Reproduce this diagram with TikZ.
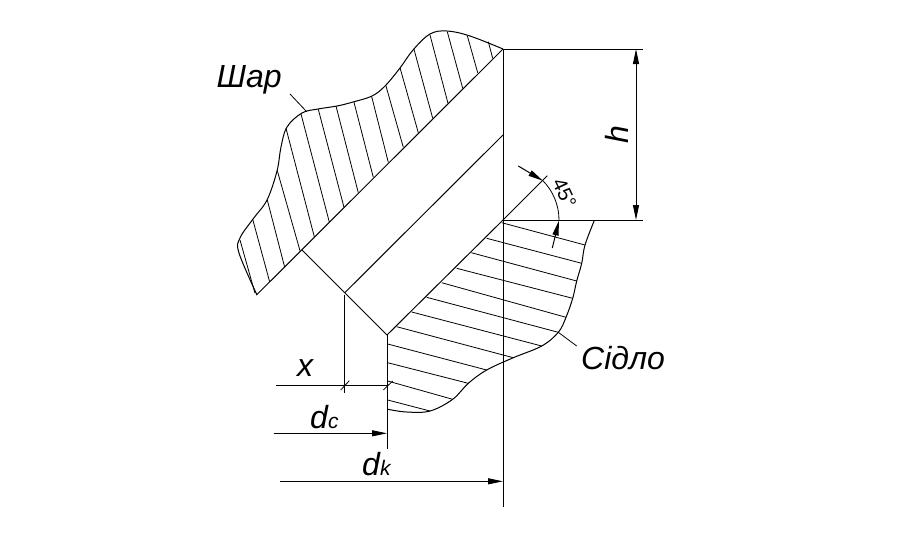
\documentclass[tikz,border=0pt]{standalone}
\usepackage{fontspec}
\setmainfont{Liberation Sans}
\usetikzlibrary{arrows.meta}
\tikzset{
  line/.style={line width=1pt,black},
  hatch/.style={line width=.8pt,black},
  dimarrow/.style={line width=1pt,black,-{Stealth[length=15pt,width=6pt,inset=0pt]}},
  dimboth/.style={line width=1pt,black,{Stealth[length=15pt,width=6pt,inset=0pt]}-{Stealth[length=15pt,width=6pt,inset=0pt]}},
  label/.style={inner sep=0pt,font=\fontsize{32}{32}\selectfont\itshape,anchor=base west}
}
\begin{document}
\begin{tikzpicture}[x=1pt,y=-1pt]
\useasboundingbox (0,0) rectangle (909,550);
% Shar outline
\draw[line] plot[smooth,tension=.6] coordinates {(503,49) (470,36) (447,31) (430,34) (413,50) (400,68) (385,86) (372,96) (353,102) (337,106) (318,109) (302,113) (287,127) (281,147) (277,171) (267,200) (253,219) (240,238) (239,253) (257,295)};
% Shar hatching
\draw[hatch] (488.3,41.7)--(492.7,58.3) (467.3,35.7)--(477.7,72.7) (447.3,31.7)--(462.7,88.3) (430,35)--(448,103.3) (414,49.3)--(432.7,118.3) (400,67.7)--(418.3,132.7) (385.7,85)--(403.3,147.3) (371.7,96.7)--(388.3,162.3) (354,102.3)--(373.3,177.3) (336,106)--(358.3,192.7) (318.3,109.3)--(344,207.3) (301,114)--(329.3,222) (286,128.3)--(314.3,236.7) (277.3,170.7)--(300,250.7) (267.3,200)--(284.7,267.3) (252.7,219.3)--(269.7,282) (240,240)--(255,293.3);
% Main geometry
\coordinate (top) at (503,49);
\coordinate (seat) at (503,220);
\coordinate (tip) at (387,335);
\draw[line] (top)--(256.5,295);
\draw[line] (503,135)--(345,292.5);
\draw[line] (302,250)--(tip);
\draw[line] (seat)--(tip);
\draw[line] (tip)--(387,449);
\draw[line] (top)--(503,507);
% Seat outline
\draw[line] plot[smooth,tension=.6] coordinates {(594.3,220.5) (585,245) (581.7,263.3) (576.7,281) (572.7,298.3) (566,317.3) (558.3,332.3) (541.7,346) (513.3,357.7) (486.7,370) (468.3,383.3) (452.7,399.3) (430,411) (406.7,412) (388,409.3)};
% Seat hatching
\draw[hatch] (501.7,222.7)--(585,245) (486.7,238.3)--(581.7,263.3) (471.3,252.7)--(576.7,281) (456.7,268.3)--(572.7,298.3) (441.7,282.7)--(566,317.3) (426.7,297.3)--(558.3,332.3) (411.7,312)--(541.7,346) (396.7,326.7)--(513.3,357.7) (387.7,344)--(486.7,370) (387.7,362.7)--(468.3,383.3) (387.7,381)--(452.7,399.3) (387.7,400)--(430,411);
% Leaders
\draw[hatch] (290,94)--(306.7,111.7);
\draw[hatch] (558.3,332.3)--(576.7,346);
% h dimension
\draw[line] (top)--(643,49);
\draw[line] (seat)--(643,220);
\draw[dimboth] (636,49)--(636,220);
% 45 degrees
\draw[line] (seat)--(547.3,175.7);
\draw[hatch] (559,220) .. controls (559,205.15) and (553.1,190.9) .. (542.6,180.4);
\draw[dimarrow] (518.3,166)--(543,180.8);
\draw[dimarrow] (552.3,248)--(559,220.5);
% x dimension
\draw[line] (344.5,295)--(344.5,392.7);
\draw[line] (276,385)--(387,385);
\draw[hatch] (340.7,390)--(349.3,380.7);
\draw[hatch] (383.3,390)--(392.7,381);
% d dimensions
\draw[dimarrow] (273.5,433.3)--(387,433.3);
\draw[dimarrow] (280,481.3)--(503,481.3);
% Labels
\node[label] (shar) at (216.5,87) {Шар};
\node[label] (sidlo) at (581,369) {Сідло};
\node[label] (xlab) at (297,376) {x};
\node[label] (dc) at (310,428) {d\fontsize{21}{21}\selectfont c};
\node[label] (dk) at (362,475) {d\fontsize{21}{21}\selectfont k};
\node[label,rotate=90] (hlab) at (628,144) {h};
\node[inner sep=0pt,font=\fontsize{20}{20}\selectfont,rotate=-65] (ang) at (564.5,193.5) {45°};
\end{tikzpicture}
\end{document}
